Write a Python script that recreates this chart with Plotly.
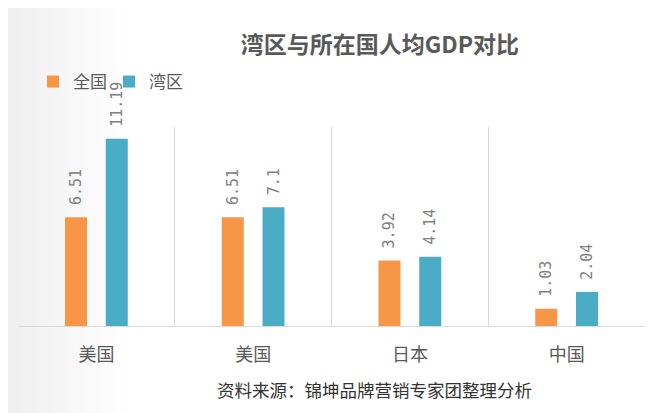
import plotly.graph_objects as go

categories = ["美国", "美国", "日本", "中国"]
quanguo = [6.51, 6.51, 3.92, 1.03]
wanqu = [11.19, 7.1, 4.14, 2.04]
series_names = ["全国", "湾区"]

xpos = list(range(len(categories)))

orange = "#F79646"
teal = "#4BACC6"
grey_text = "#595959"

# page is shown with an 8px body margin, so the figure is 8px smaller
W, H = 652, 405

fig = go.Figure()
for name, vals, col, leg in [(series_names[0], quanguo, orange, "legend"),
                             (series_names[1], wanqu, teal, "legend2")]:
    fig.add_trace(go.Bar(
        x=xpos, y=vals, name=name, legend=leg,
        marker=dict(color=col, line=dict(width=0)),
        text=["\u00a0" + f"{v:g}" for v in vals],
        textposition="outside", textangle=-90, constraintext="none",
        cliponaxis=False,
        textfont=dict(family="DejaVu Sans Mono", size=15, color="#808080"),
    ))

# soft grey fade on the left edge of the page
n = 24
for i in range(n):
    c = int(239 + (255 - 239) * i / (n - 1))
    fig.add_shape(type="rect", xref="paper", yref="paper", layer="below",
                  x0=(-10 + i * 5) / 627, x1=(-10 + (i + 1) * 5) / 627,
                  y0=-1.0, y1=1.7, line_width=0,
                  fillcolor=f"rgb({c},{c},{c})")

fig.add_annotation(text="资料来源：锦坤品牌营销专家团整理分析",
                   xref="paper", yref="paper", x=(366 - 10) / 627, y=-0.32,
                   showarrow=False, yanchor="middle",
                   font=dict(family="Noto Sans CJK SC", size=17.5, color="#333333"))

legend_style = dict(orientation="h", xref="container", y=1 - 74 / H,
                    yref="container", yanchor="middle", xanchor="left",
                    itemwidth=30, bgcolor="rgba(0,0,0,0)",
                    font=dict(family="Noto Sans CJK SC", size=17, color=grey_text))

fig.update_layout(
    width=W, height=H,
    margin=dict(l=10, r=15, t=119, b=87),
    paper_bgcolor="white", plot_bgcolor="rgba(0,0,0,0)",
    title=dict(text="<b>湾区与所在国人均GDP对比</b>", x=372 / W, xanchor="center",
               y=1 - 37 / H, yanchor="middle",
               font=dict(family="Noto Sans CJK SC", size=23, color=grey_text)),
    barmode="group", bargap=0.48, bargroupgap=0.46,
    showlegend=True,
    legend=dict(x=25 / W, **legend_style),
    legend2=dict(x=101 / W, **legend_style),
    xaxis=dict(range=[-0.5, 3.5], tickvals=xpos, ticktext=categories,
               showgrid=False, zeroline=False, showline=True, linecolor="#d9d9d9",
               ticks="", ticklabelstandoff=12,
               tickfont=dict(family="Noto Sans CJK SC", size=18, color=grey_text),
               minor=dict(tick0=-0.5, dtick=1, showgrid=True, gridcolor="#d9d9d9",
                          gridwidth=1, ticks="")),
    yaxis=dict(range=[0, 11.9], visible=False, showgrid=False, zeroline=False),
)

fig.write_html("out.html")
